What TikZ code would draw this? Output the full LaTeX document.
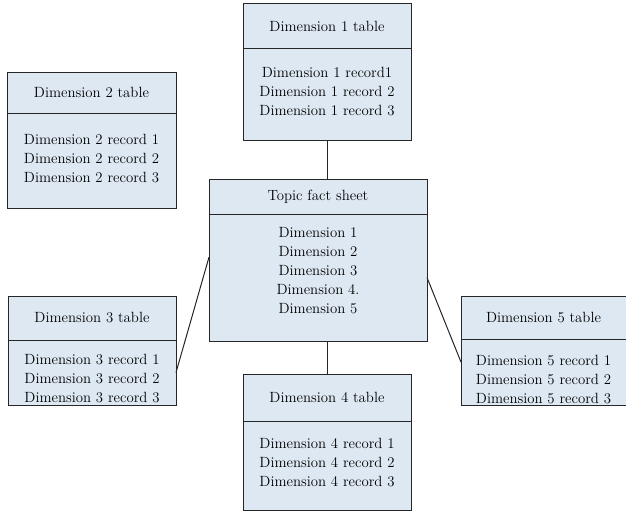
\documentclass[tikz,border=0pt]{standalone}
\usepackage{tikz}
\usetikzlibrary{positioning,calc}
\definecolor{boxfill}{RGB}{221,232,243}
\tikzset{
  tblhead/.style={draw=black!85, fill=boxfill, line width=1pt, inner sep=0pt, outer sep=0pt, anchor=north west, font=\fontsize{14.8}{19}\selectfont},
  tblbody/.style={draw=black!85, fill=boxfill, line width=1pt, inner sep=0pt, outer sep=0pt},
  rows/.style={align=center, inner sep=0pt, font=\fontsize{14.8}{19}\selectfont},
  link/.style={draw=black!85, line width=1pt}
}
\begin{document}
\begin{tikzpicture}[x=1pt,y=-1pt]
\useasboundingbox (0,0) rectangle (626,511);
% dimension 1
\node[tblhead, minimum width=168pt, minimum height=45pt] at (243,4) (d1h) {Dimension 1 table};
\node[tblbody, minimum width=168pt, minimum height=91pt, below=0pt of d1h] (d1b) {};
\node[rows] at ([yshift=3pt]d1b.center) (d1t) {Dimension 1 record1\\Dimension 1 record 2\\Dimension 1 record 3};
% dimension 2
\node[tblhead, minimum width=169pt, minimum height=41pt] at (7,72) (d2h) {Dimension 2 table};
\node[tblbody, minimum width=169pt, minimum height=95pt, below=0pt of d2h] (d2b) {};
\node[rows] at ([yshift=2pt]d2b.center) (d2t) {Dimension 2 record 1\\Dimension 2 record 2\\Dimension 2 record 3};
% topic
\node[tblhead, minimum width=218pt, minimum height=35pt] at (209,179) (th) {Topic fact sheet};
\node[tblbody, minimum width=218pt, minimum height=127pt, below=0pt of th] (tb) {};
\node[rows] at ([yshift=7pt]tb.center) (tt) {Dimension 1\\Dimension 2\\Dimension 3\\Dimension 4.\\Dimension 5};
% dimension 3
\node[tblhead, minimum width=168pt, minimum height=44pt] at (8,296) (d3h) {Dimension 3 table};
\node[tblbody, minimum width=168pt, minimum height=65pt, below=0pt of d3h] (d3b) {};
\node[rows] at ([yshift=-6pt]d3b.center) (d3t) {Dimension 3 record 1\\Dimension 3 record 2\\Dimension 3 record 3};
% dimension 4
\node[tblhead, minimum width=168pt, minimum height=47pt] at (243,374) (d4h) {Dimension 4 table};
\node[tblbody, minimum width=168pt, minimum height=89pt, below=0pt of d4h] (d4b) {};
\node[rows] at ([yshift=3pt]d4b.center) (d4t) {Dimension 4 record 1\\Dimension 4 record 2\\Dimension 4 record 3};
% dimension 5
\node[tblhead, minimum width=165pt, minimum height=43pt] at (461,296) (d5h) {Dimension 5 table};
\node[tblbody, minimum width=165pt, minimum height=66pt, below=0pt of d5h] (d5b) {};
\node[rows] at ([yshift=-8pt]d5b.center) (d5t) {Dimension 5 record 1\\Dimension 5 record 2\\Dimension 5 record 3};
% links
\draw[link] (d1b.south) -- (d1b.south |- th.north);
\draw[link] (tb.south -| d4h.north) -- (d4h.north);
\draw[link] ($(tb.north west)!0.34!(tb.south west)$) -- (d3b.east);
\draw[link] (tb.east) -- ($(d5b.north west)!0.35!(d5b.south west)$);
\end{tikzpicture}
\end{document}
